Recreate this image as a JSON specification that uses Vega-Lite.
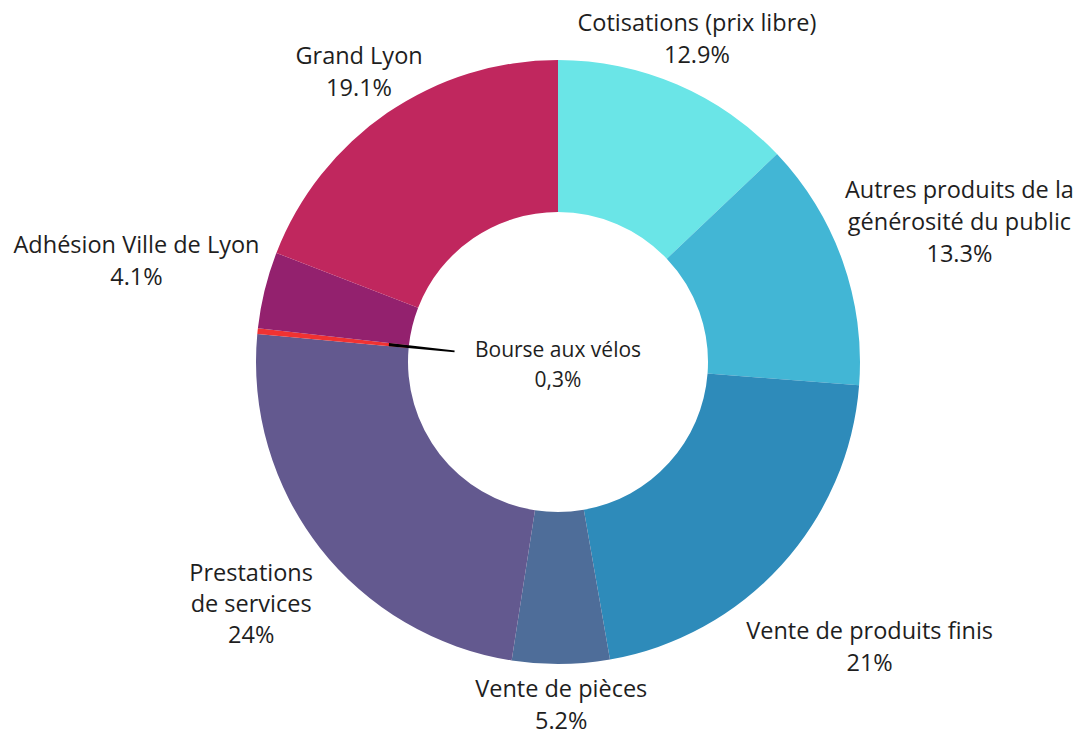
{
  "$schema": "https://vega.github.io/schema/vega-lite/v6.json",
  "autosize": {"type": "none"},
  "width": 1042,
  "height": 724,
  "padding": {"left": 37, "top": 0, "right": 0, "bottom": 9},
  "background": "white",
  "config": {"view": {"stroke": null}},
  "data": {
    "values": [
      {"idx": 1, "cat": "Cotisations (prix libre)", "value": 12.9, "label": "Cotisations (prix libre)\n12.9%"},
      {"idx": 2, "cat": "Autres produits de la générosité du public", "value": 13.3, "label": "Autres produits de la\ngénérosité du public\n13.3%"},
      {"idx": 3, "cat": "Vente de produits finis", "value": 21, "label": "Vente de produits finis\n21%"},
      {"idx": 4, "cat": "Vente de pièces", "value": 5.2, "label": "Vente de pièces\n5.2%"},
      {"idx": 5, "cat": "Prestations de services", "value": 24, "label": "Prestations\nde services\n24%"},
      {"idx": 6, "cat": "Bourse aux vélos", "value": 0.3, "label": "Bourse aux vélos\n0,3%"},
      {"idx": 7, "cat": "Adhésion Ville de Lyon", "value": 4.1, "label": "Adhésion Ville de Lyon\n4.1%"},
      {"idx": 8, "cat": "Grand Lyon", "value": 19.1, "label": "Grand Lyon\n19.1%"}
    ]
  },
  "encoding": {
    "theta": {"field": "value", "type": "quantitative", "stack": true},
    "order": {"field": "idx", "type": "quantitative"}
  },
  "layer": [
    {
      "mark": {"type": "arc", "innerRadius": 150, "outerRadius": 302},
      "encoding": {
        "color": {
          "field": "cat",
          "type": "nominal",
          "legend": null,
          "scale": {
            "domain": ["Cotisations (prix libre)", "Autres produits de la générosité du public", "Vente de produits finis", "Vente de pièces", "Prestations de services", "Bourse aux vélos", "Adhésion Ville de Lyon", "Grand Lyon"],
            "range": ["#6ae5e7", "#42b6d5", "#2e8bba", "#4e6d99", "#63598f", "#f03232", "#93216e", "#c0275e"]
          }
        }
      }
    },
    {
      "mark": {"type": "arc", "innerRadius": 104, "outerRadius": 170},
      "encoding": {
        "detail": {"field": "cat", "type": "nominal"},
        "color": {"condition": {"test": "datum.cat === 'Bourse aux vélos'", "value": "#000000"}, "value": "transparent"}
      }
    },
    {
      "mark": {"type": "text", "radius": 352, "dy": -14.5, "font": "Open Sans", "fontSize": 23.5, "color": "#1e1e1e", "lineBreak": "\n", "lineHeight": 32, "align": "center", "baseline": "middle"},
      "encoding": {
        "detail": {"field": "cat", "type": "nominal"},
        "text": {"condition": {"test": "datum.cat === 'Cotisations (prix libre)' || datum.cat === 'Grand Lyon'", "field": "label"}, "value": ""}
      }
    },
    {
      "mark": {"type": "text", "radius": 343, "dy": -15, "font": "Open Sans", "fontSize": 23.5, "color": "#1e1e1e", "lineBreak": "\n", "lineHeight": 32, "align": "center", "baseline": "middle"},
      "encoding": {
        "detail": {"field": "cat", "type": "nominal"},
        "text": {"condition": {"test": "datum.cat === 'Vente de pièces'", "field": "label"}, "value": ""}
      }
    },
    {
      "mark": {"type": "text", "radius": 389, "dy": -27, "font": "Open Sans", "fontSize": 23.5, "color": "#1e1e1e", "lineBreak": "\n", "lineHeight": 31, "align": "center", "baseline": "middle"},
      "encoding": {
        "detail": {"field": "cat", "type": "nominal"},
        "text": {"condition": {"test": "datum.cat === 'Prestations de services'", "field": "label"}, "value": ""}
      }
    },
    {
      "mark": {"type": "text", "radius": 426, "dy": -28, "font": "Open Sans", "fontSize": 23.5, "color": "#1e1e1e", "lineBreak": "\n", "lineHeight": 32, "align": "center", "baseline": "middle"},
      "encoding": {
        "detail": {"field": "cat", "type": "nominal"},
        "text": {"condition": {"test": "datum.cat === 'Autres produits de la générosité du public'", "field": "label"}, "value": ""}
      }
    },
    {
      "mark": {"type": "text", "radius": 421, "dy": -13, "font": "Open Sans", "fontSize": 23.5, "color": "#1e1e1e", "lineBreak": "\n", "lineHeight": 32, "align": "center", "baseline": "middle"},
      "encoding": {
        "detail": {"field": "cat", "type": "nominal"},
        "text": {"condition": {"test": "datum.cat === 'Vente de produits finis'", "field": "label"}, "value": ""}
      }
    },
    {
      "mark": {"type": "text", "radius": 434, "dy": -13, "font": "Open Sans", "fontSize": 23.5, "color": "#1e1e1e", "lineBreak": "\n", "lineHeight": 32, "align": "center", "baseline": "middle"},
      "encoding": {
        "detail": {"field": "cat", "type": "nominal"},
        "text": {"condition": {"test": "datum.cat === 'Adhésion Ville de Lyon'", "field": "label"}, "value": ""}
      }
    },
    {
      "mark": {"type": "text", "radius": 0, "dy": -11, "font": "Open Sans", "fontSize": 21, "color": "#1e1e1e", "lineBreak": "\n", "lineHeight": 30, "align": "center", "baseline": "middle"},
      "encoding": {
        "detail": {"field": "cat", "type": "nominal"},
        "text": {"condition": {"test": "datum.cat === 'Bourse aux vélos'", "field": "label"}, "value": ""}
      }
    }
  ]
}
